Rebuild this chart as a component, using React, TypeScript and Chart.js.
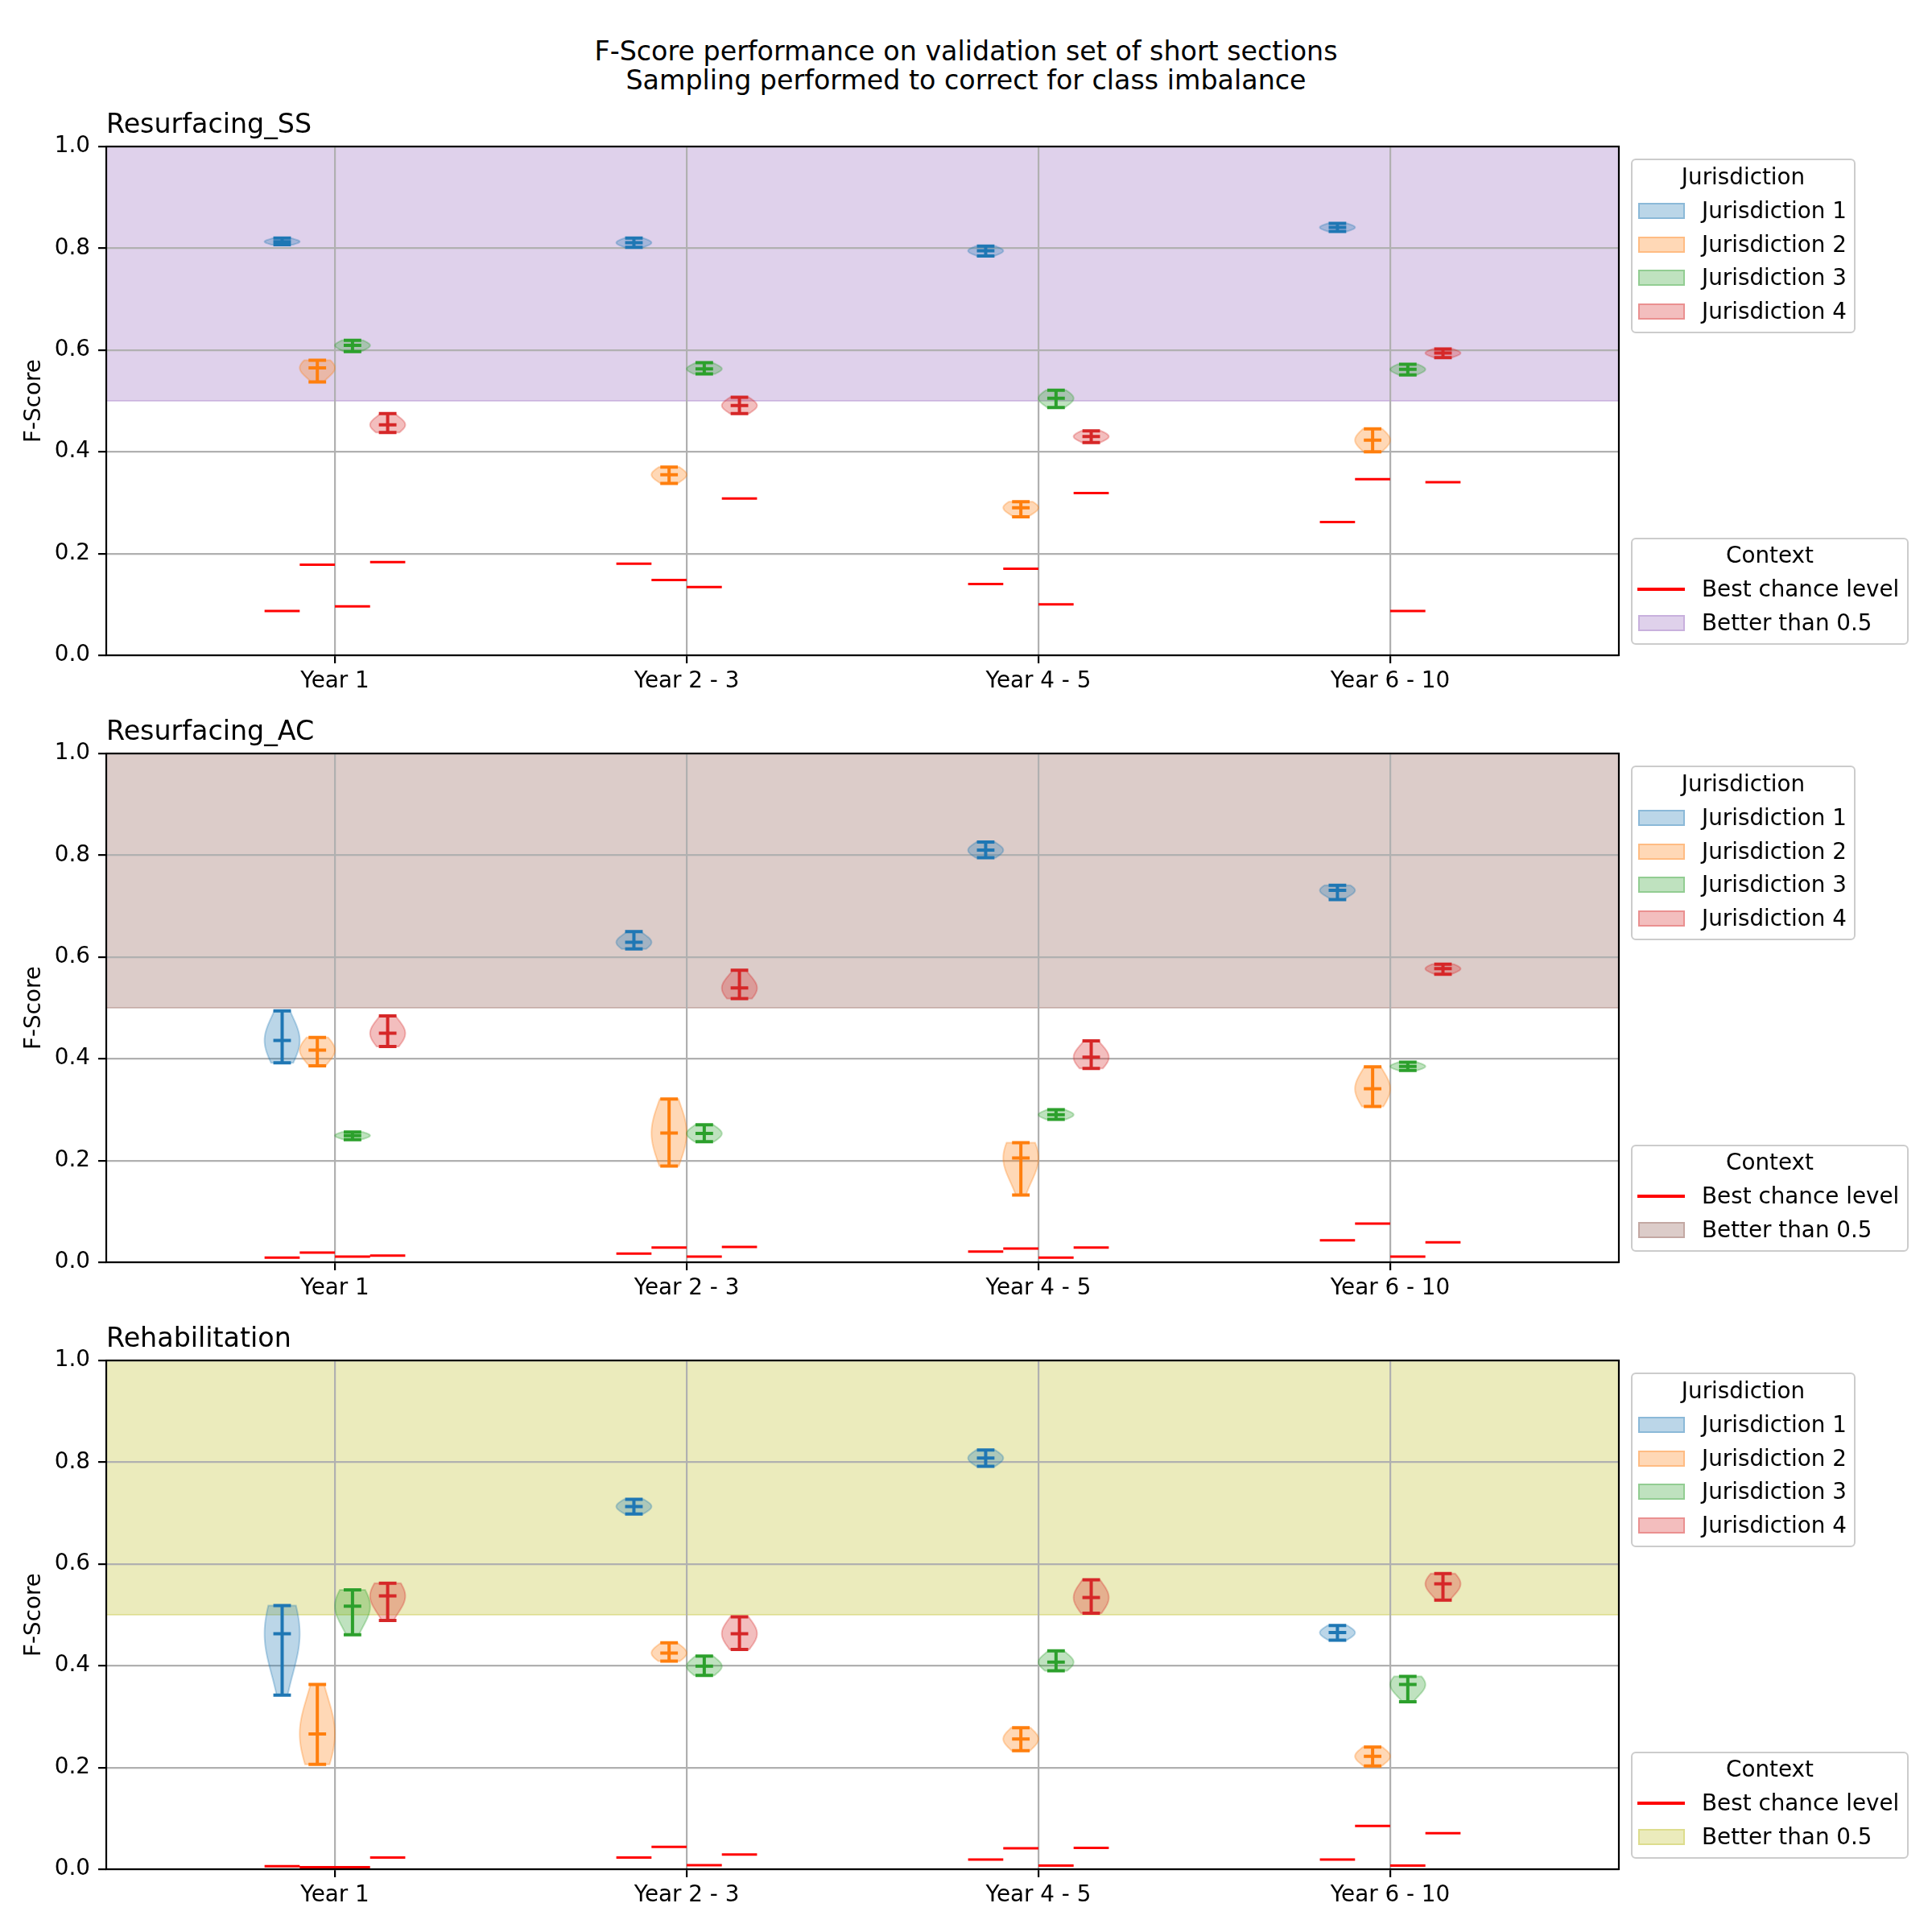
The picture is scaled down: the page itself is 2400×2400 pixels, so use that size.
import React, { useEffect, useRef } from "react";
import { Chart, registerables } from "chart.js";

Chart.register(...registerables);

// ---------------- DATA ----------------
const CATEGORIES = ["Year 1", "Year 2 - 3", "Year 4 - 5", "Year 6 - 10"];
const JURISDICTIONS = ["Jurisdiction 1", "Jurisdiction 2", "Jurisdiction 3", "Jurisdiction 4"];
const Y_TICKS = [0, 0.2, 0.4, 0.6, 0.8, 1.0];
const THRESHOLD = 0.5;
const SUPTITLE = ["F-Score performance on validation set of short sections", "Sampling performed to correct for class imbalance"];

// rows = jurisdictions, columns = categories
const SS_MIN = [
  [0.807, 0.802, 0.785, 0.833],
  [0.537, 0.338, 0.272, 0.400],
  [0.597, 0.553, 0.487, 0.551],
  [0.438, 0.475, 0.418, 0.585],
];
const SS_MEAN = [
  [0.813, 0.811, 0.795, 0.841],
  [0.565, 0.355, 0.290, 0.423],
  [0.609, 0.563, 0.505, 0.562],
  [0.453, 0.491, 0.430, 0.594],
];
const SS_MAX = [
  [0.820, 0.820, 0.804, 0.849],
  [0.580, 0.370, 0.302, 0.445],
  [0.619, 0.575, 0.521, 0.572],
  [0.475, 0.507, 0.441, 0.602],
];
const SS_CHANCE = [
  [0.087, 0.180, 0.140, 0.262],
  [0.178, 0.148, 0.170, 0.346],
  [0.096, 0.134, 0.100, 0.087],
  [0.183, 0.308, 0.319, 0.340],
];

const AC_MIN = [
  [0.392, 0.616, 0.795, 0.713],
  [0.386, 0.189, 0.132, 0.306],
  [0.241, 0.237, 0.281, 0.377],
  [0.424, 0.518, 0.381, 0.566],
];
const AC_MEAN = [
  [0.436, 0.629, 0.810, 0.731],
  [0.417, 0.254, 0.205, 0.341],
  [0.249, 0.253, 0.290, 0.385],
  [0.450, 0.539, 0.403, 0.577],
];
const AC_MAX = [
  [0.494, 0.650, 0.826, 0.741],
  [0.442, 0.321, 0.235, 0.384],
  [0.256, 0.270, 0.300, 0.393],
  [0.484, 0.574, 0.435, 0.586],
];
const AC_CHANCE = [
  [0.009, 0.017, 0.021, 0.043],
  [0.019, 0.029, 0.027, 0.076],
  [0.011, 0.011, 0.009, 0.011],
  [0.013, 0.030, 0.029, 0.039],
];

const RH_MIN = [
  [0.342, 0.698, 0.792, 0.450],
  [0.206, 0.409, 0.233, 0.203],
  [0.461, 0.381, 0.390, 0.329],
  [0.489, 0.432, 0.503, 0.529],
];
const RH_MEAN = [
  [0.463, 0.713, 0.808, 0.465],
  [0.266, 0.425, 0.256, 0.222],
  [0.517, 0.399, 0.407, 0.363],
  [0.537, 0.463, 0.534, 0.561],
];
const RH_MAX = [
  [0.518, 0.727, 0.824, 0.479],
  [0.363, 0.445, 0.278, 0.240],
  [0.549, 0.419, 0.429, 0.379],
  [0.562, 0.496, 0.569, 0.581],
];
const RH_CHANCE = [
  [0.006, 0.023, 0.019, 0.019],
  [0.004, 0.044, 0.041, 0.085],
  [0.004, 0.008, 0.007, 0.007],
  [0.023, 0.029, 0.042, 0.071],
];

// ---------------- STYLE ----------------
const FONT = "'DejaVu Sans', sans-serif";
const FS = 27.8;
const TITLE_FS = 33.3;
const COLORS = ["#1f77b4", "#ff7f0e", "#2ca02c", "#d62728"];
const OFFSETS = [-0.15, -0.05, 0.05, 0.15];
const HALF_W = 0.05;
const CAP = 0.025;
const CHANCE_HALF = 0.05;
const GRID = "#b0b0b0";
const LW = 2.2;

const PANELS = [
  { title: "Resurfacing_SS", min: SS_MIN, mean: SS_MEAN, max: SS_MAX, chance: SS_CHANCE, band: "#9467bd", top: 182 },
  { title: "Resurfacing_AC", min: AC_MIN, mean: AC_MEAN, max: AC_MAX, chance: AC_CHANCE, band: "#8c564b", top: 936 },
  { title: "Rehabilitation", min: RH_MIN, mean: RH_MEAN, max: RH_MAX, chance: RH_CHANCE, band: "#bcbd22", top: 1690 },
];

const PLOT_H = 632;
const PAD_TOP = 65;
const X_AXIS_H = 60;
const CANVAS_H = PAD_TOP + PLOT_H + X_AXIS_H;

function rgba(hex: string, a: number) {
  const n = parseInt(hex.slice(1), 16);
  return `rgba(${(n >> 16) & 255},${(n >> 8) & 255},${n & 255},${a})`;
}

function statsPoints(j: number, mn: number[][], me: number[][], mx: number[][]) {
  const pts: any[] = [];
  for (let k = 0; k < CATEGORIES.length; k++) {
    const cx = k + OFFSETS[j];
    pts.push({ x: cx, y: mn[j][k] }, { x: cx, y: mx[j][k] }, { x: cx, y: null });
    for (const arr of [mn, mx, me]) {
      pts.push({ x: cx - CAP, y: arr[j][k] }, { x: cx + CAP, y: arr[j][k] }, { x: cx, y: null });
    }
  }
  return pts;
}

function chancePoints(ch: number[][]) {
  const pts: any[] = [];
  for (let j = 0; j < JURISDICTIONS.length; j++) {
    for (let k = 0; k < CATEGORIES.length; k++) {
      const cx = k + OFFSETS[j];
      pts.push({ x: cx - CHANCE_HALF, y: ch[j][k] }, { x: cx + CHANCE_HALF, y: ch[j][k] }, { x: cx, y: null });
    }
  }
  return pts;
}

function Panel({ cfg }: { cfg: any }) {
  const ref = useRef<HTMLCanvasElement>(null);
  useEffect(() => {
    const canvas = ref.current!;
    const datasets: any[] = [];
    datasets.push({
      data: chancePoints(cfg.chance),
      borderColor: "#ff0000",
      borderWidth: 3,
      pointRadius: 0,
      pointHoverRadius: 0,
      spanGaps: false,
      fill: false,
    });
    for (let j = 0; j < JURISDICTIONS.length; j++) {
      datasets.push({
        data: statsPoints(j, cfg.min, cfg.mean, cfg.max),
        borderColor: COLORS[j],
        borderWidth: 4,
        pointRadius: 0,
        pointHoverRadius: 0,
        spanGaps: false,
        fill: false,
      });
    }

    const bandPlugin = {
      id: "band",
      beforeDraw(chart: any) {
        const { ctx, chartArea: a, scales } = chart;
        const y = scales.y;
        const yt = y.getPixelForValue(1);
        const yb = y.getPixelForValue(THRESHOLD);
        ctx.save();
        ctx.fillStyle = rgba(cfg.band, 0.3);
        ctx.fillRect(a.left, yt, a.right - a.left, yb - yt);
        ctx.strokeStyle = rgba(cfg.band, 0.3);
        ctx.lineWidth = 2;
        ctx.strokeRect(a.left, yt, a.right - a.left, yb - yt);
        ctx.restore();
      },
    };

    const bodyPlugin = {
      id: "violinBodies",
      beforeDatasetsDraw(chart: any) {
        const { ctx, scales } = chart;
        const xs = scales.x, ys = scales.y;
        ctx.save();
        for (let j = 0; j < JURISDICTIONS.length; j++) {
          for (let k = 0; k < CATEGORIES.length; k++) {
            const lo = cfg.min[j][k], hi = cfg.max[j][k], mu = cfg.mean[j][k];
            const range = Math.max(hi - lo, 1e-6);
            const s = range * 0.45;
            const N = 30;
            const vals: number[] = [];
            const ws: number[] = [];
            for (let i = 0; i <= N; i++) {
              const v = lo + (range * i) / N;
              vals.push(v);
              ws.push(Math.exp(-0.5 * ((v - mu) / s) ** 2));
            }
            const wmax = Math.max(...ws);
            const cx = k + OFFSETS[j];
            ctx.beginPath();
            for (let i = 0; i <= N; i++) {
              const px = xs.getPixelForValue(cx + (HALF_W * ws[i]) / wmax);
              const py = ys.getPixelForValue(vals[i]);
              if (i === 0) ctx.moveTo(px, py);
              else ctx.lineTo(px, py);
            }
            for (let i = N; i >= 0; i--) {
              ctx.lineTo(xs.getPixelForValue(cx - (HALF_W * ws[i]) / wmax), ys.getPixelForValue(vals[i]));
            }
            ctx.closePath();
            ctx.fillStyle = rgba(COLORS[j], 0.3);
            ctx.fill();
            ctx.strokeStyle = rgba(COLORS[j], 0.3);
            ctx.lineWidth = 2;
            ctx.stroke();
          }
        }
        ctx.restore();
      },
    };

    const framePlugin = {
      id: "frame",
      afterDraw(chart: any) {
        const { ctx, chartArea: a } = chart;
        ctx.save();
        ctx.strokeStyle = "#000";
        ctx.lineWidth = LW;
        ctx.strokeRect(a.left, a.top, a.right - a.left, a.bottom - a.top);
        ctx.fillStyle = "#000";
        ctx.font = `${TITLE_FS}px ${FONT}`;
        ctx.textAlign = "left";
        ctx.textBaseline = "alphabetic";
        ctx.fillText(cfg.title, a.left, a.top - 16.7);
        ctx.restore();
      },
    };

    const chart = new Chart(canvas, {
      type: "line",
      data: { datasets },
      options: {
        animation: false,
        responsive: false,
        devicePixelRatio: 1,
        layout: { padding: { top: PAD_TOP, right: 389, left: 0, bottom: 0 } },
        plugins: { legend: { display: false }, tooltip: { enabled: false }, title: { display: false } },
        elements: { point: { radius: 0 }, line: { tension: 0, borderCapStyle: "butt" } },
        scales: {
          x: {
            type: "linear",
            min: -0.65,
            max: 3.65,
            afterBuildTicks: (axis: any) => {
              axis.ticks = CATEGORIES.map((_, i) => ({ value: i }));
            },
            afterFit: (s: any) => {
              s.height = X_AXIS_H;
            },
            ticks: {
              autoSkip: false,
              maxRotation: 0,
              minRotation: 0,
              padding: 6,
              color: "#000",
              font: { family: FONT, size: FS },
              callback: (v: any) => CATEGORIES[Math.round(Number(v))] ?? "",
            },
            grid: { color: GRID, lineWidth: LW, tickColor: "#000", tickLength: 10, tickWidth: LW },
            border: { display: false },
          },
          y: {
            type: "linear",
            min: 0,
            max: 1,
            afterBuildTicks: (axis: any) => {
              axis.ticks = Y_TICKS.map((v) => ({ value: v }));
            },
            afterFit: (s: any) => {
              s.width = 132;
            },
            ticks: {
              padding: 10,
              color: "#000",
              font: { family: FONT, size: FS },
              callback: (v: any) => Number(v).toFixed(1),
            },
            grid: { color: GRID, lineWidth: LW, tickColor: "#000", tickLength: 10, tickWidth: LW },
            border: { display: false },
            title: {
              display: true,
              text: "F-Score",
              color: "#000",
              font: { family: FONT, size: FS },
              padding: { top: 26, bottom: 0 },
            },
          },
        },
      } as any,
      plugins: [bandPlugin, bodyPlugin, framePlugin],
    });
    return () => chart.destroy();
  }, []);
  return (
    <canvas
      ref={ref}
      width={2400}
      height={CANVAS_H}
      style={{ position: "absolute", left: 0, top: cfg.top - PAD_TOP, width: 2400, height: CANVAS_H }}
    />
  );
}

const textStyle: React.CSSProperties = {
  fontFamily: FONT,
  fontSize: FS,
  lineHeight: 1,
  color: "#000",
  whiteSpace: "nowrap",
  position: "absolute",
  transform: "translateY(-50%)",
};

function Legends({ cfg }: { cfg: any }) {
  const B = 2;
  const rowsJ = [64.6, 106.7, 148.3, 190];
  const rowsC = [64, 106];
  return (
    <>
      <div
        style={{
          position: "absolute",
          left: 2026,
          top: cfg.top + 15,
          width: 279,
          height: 217,
          border: `${B}px solid #cccccc`,
          borderRadius: 6,
          boxSizing: "border-box",
          background: "rgba(255,255,255,0.8)",
        }}
      >
        <div style={{ ...textStyle, left: 0, right: 0, top: 22.6 - B, textAlign: "center" }}>Jurisdiction</div>
        {JURISDICTIONS.map((name, j) => (
          <React.Fragment key={name}>
            <div
              style={{
                position: "absolute",
                left: 9 - B,
                top: rowsJ[j] - B - 10,
                width: 58,
                height: 20,
                boxSizing: "border-box",
                background: rgba(COLORS[j], 0.3),
                border: `2px solid ${rgba(COLORS[j], 0.3)}`,
              }}
            />
            <div style={{ ...textStyle, left: 88 - B, top: rowsJ[j] - B }}>{name}</div>
          </React.Fragment>
        ))}
      </div>
      <div
        style={{
          position: "absolute",
          left: 2026,
          top: cfg.top + 486,
          width: 345,
          height: 133,
          border: `${B}px solid #cccccc`,
          borderRadius: 6,
          boxSizing: "border-box",
          background: "rgba(255,255,255,0.8)",
        }}
      >
        <div style={{ ...textStyle, left: 0, right: 0, top: 22 - B, textAlign: "center" }}>Context</div>
        <div style={{ position: "absolute", left: 8 - B, top: rowsC[0] - B - 2, width: 59, height: 4, background: "#ff0000" }} />
        <div style={{ ...textStyle, left: 88 - B, top: rowsC[0] - B }}>Best chance level</div>
        <div
          style={{
            position: "absolute",
            left: 9 - B,
            top: rowsC[1] - B - 10,
            width: 58,
            height: 20,
            boxSizing: "border-box",
            background: rgba(cfg.band, 0.3),
            border: `2px solid ${rgba(cfg.band, 0.3)}`,
          }}
        />
        <div style={{ ...textStyle, left: 88 - B, top: rowsC[1] - B }}>Better than 0.5</div>
      </div>
    </>
  );
}

export default function App() {
  return (
    <div style={{ position: "absolute", left: 0, top: 0, width: 2400, height: 2400, background: "#fff", overflow: "hidden" }}>
      {SUPTITLE.map((line, i) => (
        <div
          key={line}
          style={{
            position: "absolute",
            left: 0,
            width: 2400,
            top: [64, 99.5][i],
            transform: "translateY(-50%)",
            textAlign: "center",
            fontFamily: FONT,
            fontSize: TITLE_FS,
            lineHeight: 1,
            color: "#000",
            whiteSpace: "nowrap",
          }}
        >
          {line}
        </div>
      ))}
      {PANELS.map((p) => (
        <Panel key={p.title} cfg={p} />
      ))}
      {PANELS.map((p) => (
        <Legends key={p.title + "-leg"} cfg={p} />
      ))}
    </div>
  );
}
